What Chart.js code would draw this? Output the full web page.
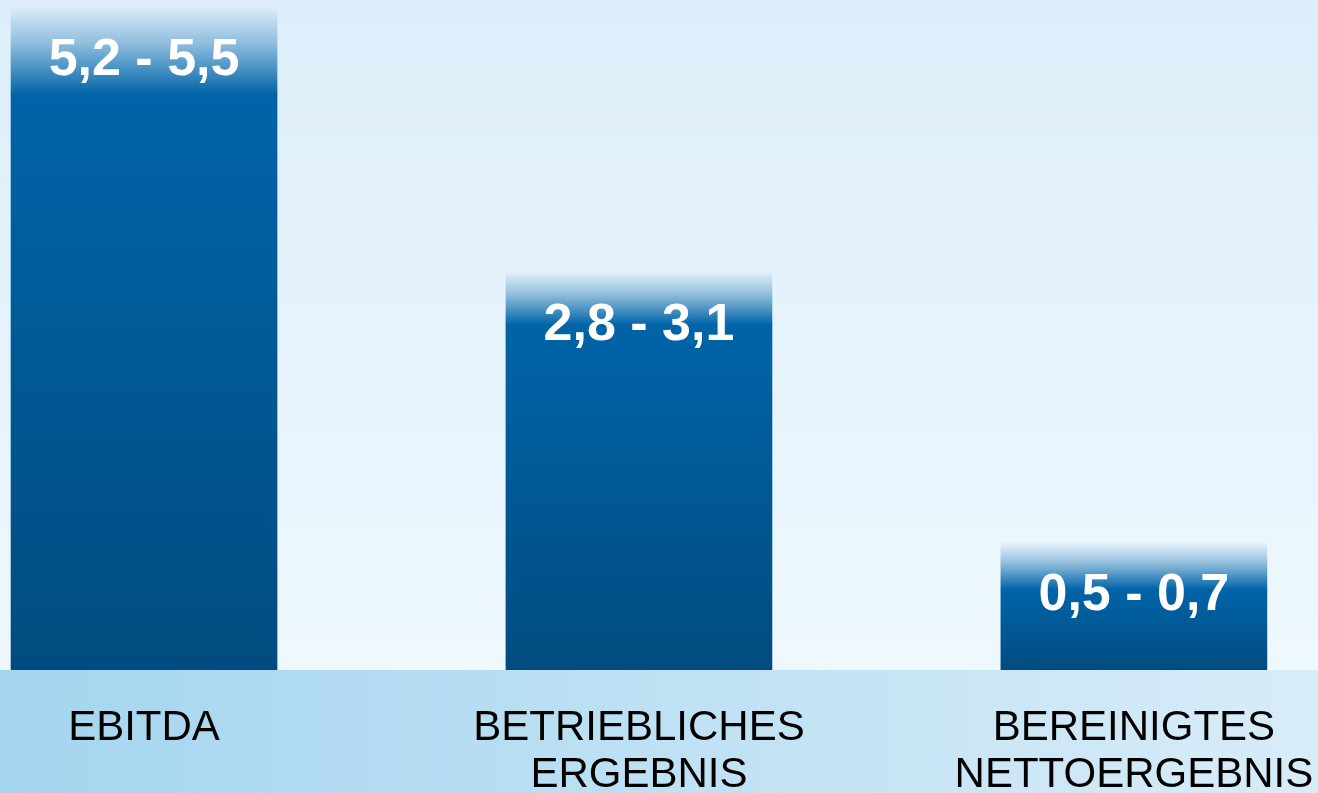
<!DOCTYPE html>
<html>
<head>
<meta charset="utf-8">
<script src="https://cdn.jsdelivr.net/npm/chart.js@4/dist/chart.umd.min.js"></script>
<style>
  html, body { margin: 0; padding: 0; overflow: hidden; }
  #wrap { width: 1318px; height: 793px; }
</style>
</head>
<body>
<div id="wrap"><canvas id="myChart" width="1318" height="793"></canvas></div>
<script>
// categories (multi-line labels)
const categories = ['EBITDA', ['BETRIEBLICHES', 'ERGEBNIS'], ['BEREINIGTES', 'NETTOERGEBNIS']];
// guidance ranges shown as text
const rangeLow = [5.2, 2.8, 0.5];
const rangeHigh = [5.5, 3.1, 0.7];
// drawn bar heights (graphic is not to scale)
const fadeStart = [5.15, 3.09, 0.72];
const barTop = [5.93, 3.56, 1.14];

const fmt = v => v.toFixed(1).replace('.', ',');

const ctx = document.getElementById('myChart').getContext('2d');

function solidColor(context) {
  const chart = context.chart;
  const y = chart.scales.y;
  if (!chart.chartArea || !y) return '#005a96';
  const i = context.dataIndex;
  const top = y.getPixelForValue(fadeStart[i]);
  const bottom = y.getPixelForValue(0);
  const g = chart.ctx.createLinearGradient(0, top, 0, bottom);
  g.addColorStop(0, '#0064a8');
  g.addColorStop(1, '#004c80');
  return g;
}

function fadeColor(context) {
  const chart = context.chart;
  const y = chart.scales.y;
  if (!chart.chartArea || !y) return 'rgba(0,100,168,0.5)';
  const i = context.dataIndex;
  const top = y.getPixelForValue(barTop[i]);
  const bottom = y.getPixelForValue(fadeStart[i]);
  const g = chart.ctx.createLinearGradient(0, top, 0, bottom);
  g.addColorStop(0, 'rgba(0,100,168,0.02)');
  g.addColorStop(0.4, 'rgba(0,100,168,0.35)');
  g.addColorStop(1, 'rgba(0,100,168,1)');
  return g;
}

const backgroundPlugin = {
  id: 'bg',
  beforeDraw(chart) {
    const c = chart.ctx;
    const a = chart.chartArea;
    c.save();
    const g1 = c.createLinearGradient(0, 0, 0, a.bottom);
    g1.addColorStop(0, '#ddeefa');
    g1.addColorStop(1, '#eef8fd');
    c.fillStyle = g1;
    c.fillRect(0, 0, chart.width, a.bottom);
    const g2 = c.createLinearGradient(0, 0, chart.width, 0);
    g2.addColorStop(0, '#a4d5ef');
    g2.addColorStop(1, '#d8ecf8');
    c.fillStyle = g2;
    c.fillRect(0, a.bottom, chart.width, chart.height - a.bottom);
    c.restore();
  }
};

const rangeLabels = {
  id: 'rangeLabels',
  afterDatasetsDraw(chart) {
    const c = chart.ctx;
    const meta = chart.getDatasetMeta(1);
    const y = chart.scales.y;
    c.save();
    c.fillStyle = '#ffffff';
    c.font = 'bold 52px "Liberation Sans", Arial, sans-serif';
    c.textAlign = 'center';
    c.textBaseline = 'middle';
    meta.data.forEach((bar, i) => {
      c.fillText(fmt(rangeLow[i]) + ' - ' + fmt(rangeHigh[i]), bar.x, y.getPixelForValue(barTop[i]) + 53);
    });
    c.restore();
  }
};

const myChart = new Chart(ctx, {
  type: 'bar',
  data: {
    datasets: [
      {
        data: fadeStart.map((v, i) => ({ x: i, y: [0, v] })),
        backgroundColor: solidColor,
        grouped: false,
        borderSkipped: false
      },
      {
        data: fadeStart.map((v, i) => ({ x: i, y: [v, barTop[i]] })),
        backgroundColor: fadeColor,
        grouped: false,
        borderSkipped: false
      }
    ]
  },
  options: {
    responsive: false,
    maintainAspectRatio: false,
    animation: false,
    events: [],
    layout: { padding: 0 },
    datasets: { bar: { barThickness: 266 } },
    plugins: {
      legend: { display: false },
      tooltip: { enabled: false }
    },
    scales: {
      x: {
        type: 'linear',
        offset: false,
        min: -0.291,
        max: 2.372,
        grid: { display: false, drawTicks: false },
        border: { display: false },
        afterBuildTicks: (scale) => { scale.ticks = categories.map((c, i) => ({ value: i })); },
        afterFit: (scale) => {
          scale.height = 123;
          scale.paddingLeft = 0;
          scale.paddingRight = 0;
        },
        ticks: {
          color: '#000000',
          padding: 35,
          maxRotation: 0,
          autoSkip: false,
          callback: (value) => categories[value],
          font: { family: '"Liberation Sans", Arial, sans-serif', size: 42, lineHeight: 1.12 }
        }
      },
      y: {
        display: false,
        min: 0,
        max: 6
      }
    }
  },
  plugins: [backgroundPlugin, rangeLabels]
});
</script>
</body>
</html>
